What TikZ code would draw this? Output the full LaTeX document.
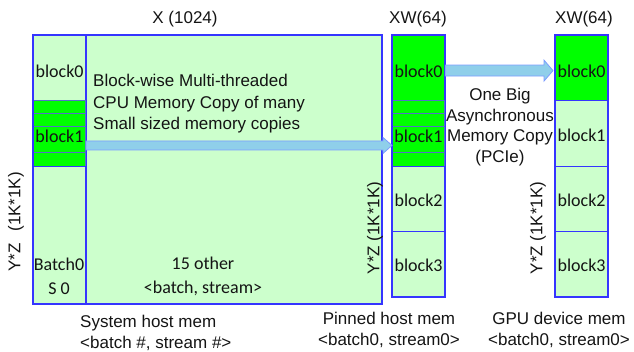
\documentclass[tikz,border=0pt]{standalone}
\usepackage{fontspec}
\setmainfont{Liberation Sans}
\newfontfamily\calibri{Carlito}
\usetikzlibrary{calc}
\definecolor{cellgreen}{HTML}{CCFFCC}
\definecolor{hotgreen}{HTML}{00FF00}
\definecolor{edgeblue}{HTML}{3535FF}
\definecolor{stripblue}{HTML}{5272C8}
\definecolor{arrowfill}{HTML}{8FCFEA}
\definecolor{arrowedge}{HTML}{7C9CFF}
\definecolor{ink}{HTML}{141414}
\tikzset{
  every node/.style={text=ink, inner sep=0pt, font=\fontsize{17}{20.5}\selectfont},
  cali/.style={font=\calibri\fontsize{18}{24}\selectfont},
  cellbase/.style={minimum width=52pt, anchor=north west, cali},
  light/.style={cellbase, fill=cellgreen, draw=edgeblue, line width=1.2pt},
  hot/.style={cellbase, fill=hotgreen, draw=stripblue, line width=0.9pt},
  frame/.style={draw=edgeblue, line width=1.4pt},
  blockarrow/.style 2 args={fill=arrowfill, draw=arrowedge, line width=0.8pt,
    to path={let \p1=(\tikztostart), \p2=(\tikztotarget) in
      (\x1,{\y1+#1}) -- ({\x2-9pt},{\y1+#1}) -- ({\x2-9pt},{\y1+#2})
      -- (\x2,\y1) -- ({\x2-9pt},{\y1-#2}) -- ({\x2-9pt},{\y1-#1})
      -- (\x1,{\y1-#1}) -- cycle}},
}
\begin{document}
\begin{tikzpicture}[x=1pt,y=-1pt]
\path[use as bounding box] (0,0) rectangle (634,352);

% system host memory: one column for batch0/stream0 and the remaining 15
\node[light, minimum width=296pt, minimum height=268pt] (sysrest) at (85,35) {};
\node[light, minimum height=65pt] (lb0) at (33,35) {};
\node[hot, minimum height=13pt] (ls0) at (33,100) {};
\node[hot, minimum height=13pt] (ls1) at (33,113) {};
\node[hot, minimum height=26pt] (lb1) at (33,126) {};
\node[hot, minimum height=14pt] (ls2) at (33,152) {};
\node[light, minimum height=137pt] (ltail) at (33,166) {};
\draw[frame] (lb0.north west) rectangle (sysrest.south east);
\draw[frame] (lb0.north east) -- (ltail.south east);
\node[cali] at ($(lb0.center)+(0,3)$) {block0};
\node[cali] at ($(lb1.center)+(0,-3)$) {block1};
\node[cali, align=center] (bs0) at (59,276) {Batch0\\S 0};
\node[cali, align=center] (others) at (203,276) {15 other\\{<}batch, stream{>}};
\node[align=left, anchor=west, font=\fontsize{17}{21.5}\selectfont] (cpucopy) at (93,104)
  {Block-wise Multi-threaded\\CPU Memory Copy of many\\Small sized memory copies};

% pinned host memory
\node[hot, draw=edgeblue, line width=1.2pt, minimum height=65pt] (pb0) at (392,35) {};
\node[hot, minimum height=13pt] (ps0) at (392,100) {};
\node[hot, minimum height=13pt] (ps1) at (392,113) {};
\node[hot, minimum height=26pt] (pb1) at (392,126) {};
\node[hot, minimum height=14pt] (ps2) at (392,152) {};
\node[light, minimum height=65pt] (pb2) at (392,166) {};
\node[light, minimum height=65pt] (pb3) at (392,231) {};
\draw[frame] (pb0.north west) rectangle (pb3.south east);
\node[cali] at ($(pb0.center)+(0,3)$) {block0};
\node[cali] at ($(pb1.center)+(0,-3)$) {block1};
\node[cali] at ($(pb2.center)+(0,1)$) {block2};
\node[cali] at ($(pb3.center)+(0,1)$) {block3};

% GPU device memory
\node[hot, draw=edgeblue, line width=1.2pt, minimum height=65pt] (gb0) at (555,35) {};
\node[light, minimum height=66pt] (gb1) at (555,100) {};
\node[light, minimum height=65pt] (gb2) at (555,166) {};
\node[light, minimum height=65pt] (gb3) at (555,231) {};
\draw[frame] (gb0.north west) rectangle (gb3.south east);
\node[cali] at ($(gb0.center)+(0,3)$) {block0};
\node[cali] at ($(gb1.center)+(0,2)$) {block1};
\node[cali] at ($(gb2.center)+(0,1)$) {block2};
\node[cali] at ($(gb3.center)+(0,1)$) {block3};

% copy arrows
\coordinate (cpuA) at ($(lb1.east)+(0,6)$);
\coordinate (cpuB) at ($(pb1.west)+(0,6)$);
\draw[blockarrow={4.5pt}{8pt}] (cpuA) to (cpuB);
\coordinate (pcieA) at ($(pb0.east)+(0,2.5)$);
\coordinate (pcieB) at ($(gb0.west)+(-2,2.5)$);
\draw[blockarrow={5.5pt}{10.5pt}] (pcieA) to (pcieB);

% dimension labels
\node (xdim) at (185,19) {X (1024)};
\node (xwp) at (418,19) {XW(64)};
\node (xwg) at (584,19) {XW(64)};
\node[rotate=90] (yzs) at (16,222) {Y*Z\hspace{12pt}(1K*1K)};
\node[rotate=90] (yzp) at (375,228) {Y*Z (1K*1K)};
\node[rotate=90] (yzg) at (538,228) {Y*Z (1K*1K)};
\node[align=center] (pcie) at (500,127) {One Big\\Asynchronous\\Memory Copy\\(PCIe)};

% memory captions
\node[align=left, anchor=west] (capsys) at (80,333) {System host mem\\{<}batch \#, stream \#{>}};
\node[align=center] (cappin) at (389,330) {Pinned host mem\\{<}batch0, stream0{>}};
\node[align=center] (capgpu) at (559,330) {GPU device mem\\{<}batch0, stream0{>}};
\end{tikzpicture}
\end{document}
